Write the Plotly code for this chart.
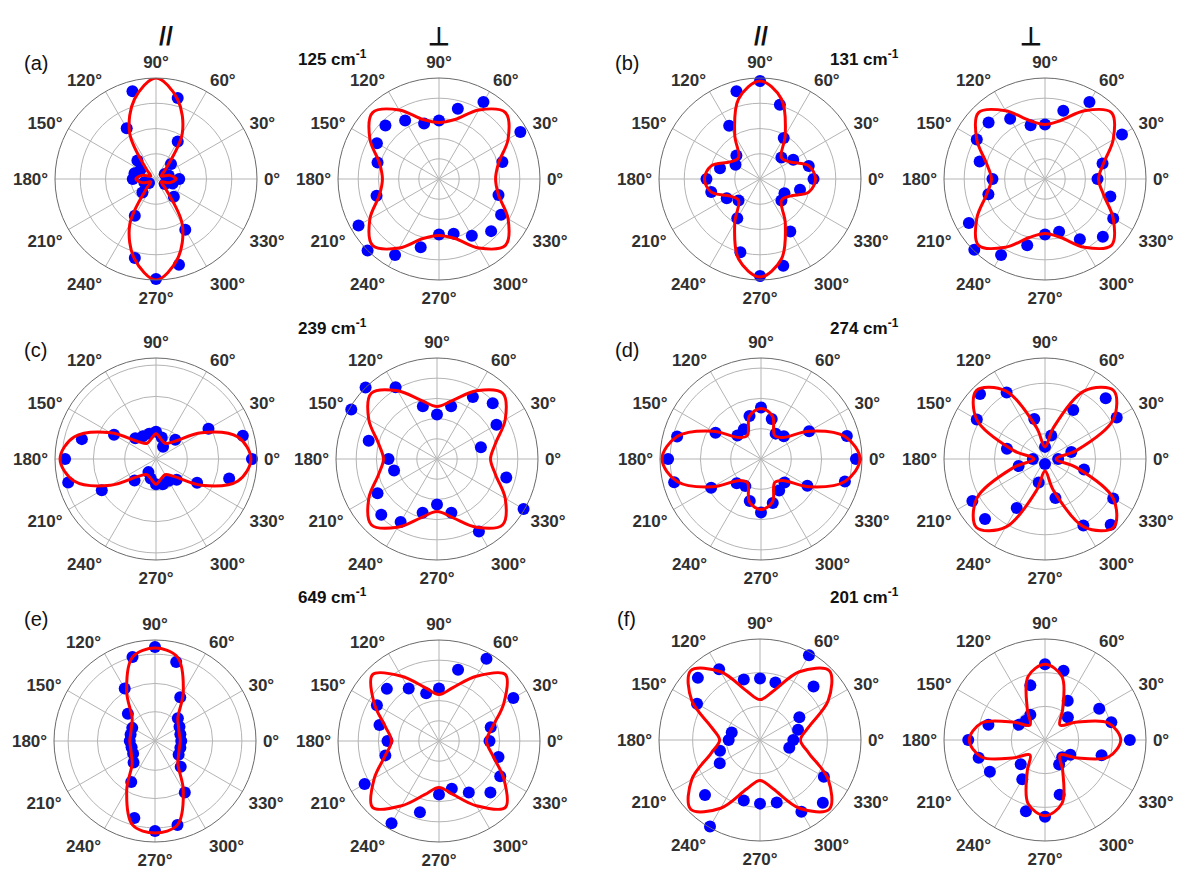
import plotly.graph_objects as go

W, H = 1177, 869

# Polarization angles (degrees) of the measured points and of the fitted curves
DOT_ANGLES = list(range(0, 360, 15))
FIT_ANGLES = list(range(0, 375, 15))

ANGLE_TICKS = list(range(0, 360, 30))
ANGLE_LABELS = [f"{a}°" for a in ANGLE_TICKS]

# Normalized Raman intensities, parallel (//) and perpendicular (⊥) configurations
# (a) 125 cm-1
a_par_dots = [0.23, 0.13, 0.10, 0.21, 0.43, 0.83, 1.02, 0.90, 0.58, 0.26, 0.18, 0.22,
              0.23, 0.12, 0.08, 0.19, 0.42, 0.81, 0.99, 0.88, 0.58, 0.25, 0.10, 0.17]
a_par_fit = [0.20, 0.14, 0.06, 0.13, 0.52, 0.82, 1.00, 0.82, 0.52, 0.13, 0.06, 0.14,
             0.20, 0.14, 0.06, 0.13, 0.52, 0.82, 1.00, 0.82, 0.52, 0.13, 0.06, 0.14]
a_perp_dots = [None, 0.65, 0.93, 1.02, 0.88, 0.72, 0.58, 0.57, 0.67, 0.75, 0.71, 0.63,
               None, 0.64, 0.92, 1.00, 0.87, 0.70, 0.55, 0.56, 0.65, 0.73, 0.71, 0.61]
a_perp_fit = [0.56, 0.61, 0.79, 0.93, 0.79, 0.61, 0.56, 0.61, 0.79, 0.93, 0.79, 0.61,
              0.56, 0.61, 0.79, 0.93, 0.79, 0.61, 0.56, 0.61, 0.79, 0.93, 0.79, 0.61]

# (b) 131 cm-1
b_par_dots = [0.53, 0.50, 0.38, 0.30, 0.47, 0.76, 0.97, 0.90, 0.61, 0.33, 0.28, 0.41,
              0.53, 0.50, 0.38, 0.30, 0.45, 0.75, 0.96, 0.89, 0.60, 0.30, 0.28, 0.41]
b_par_fit = [0.55, 0.50, 0.34, 0.30, 0.50, 0.82, 0.97, 0.82, 0.50, 0.30, 0.34, 0.50,
             0.55, 0.50, 0.34, 0.30, 0.50, 0.82, 0.97, 0.82, 0.50, 0.30, 0.34, 0.50]
b_perp_dots = [0.52, 0.59, 0.88, 1.01, 0.88, 0.70, 0.54, 0.55, 0.69, 0.79, 0.78, 0.67,
               0.52, 0.58, 0.87, 0.99, 0.87, 0.68, 0.55, 0.54, 0.69, 0.81, 0.78, 0.67]
b_perp_fit = [0.53, 0.60, 0.78, 0.93, 0.78, 0.60, 0.54, 0.60, 0.78, 0.93, 0.78, 0.60,
              0.53, 0.60, 0.78, 0.93, 0.78, 0.60, 0.54, 0.60, 0.78, 0.93, 0.78, 0.60]

# (c) 239 cm-1
c_par_dots = [0.95, 0.89, 0.60, 0.27, 0.14, 0.22, 0.27, 0.26, 0.26, 0.29, 0.48, 0.76,
              0.90, 0.90, 0.62, 0.30, 0.15, 0.20, 0.25, 0.26, 0.25, 0.29, 0.47, 0.75]
c_par_fit = [0.94, 0.84, 0.52, 0.24, 0.18, 0.20, 0.25, 0.20, 0.18, 0.24, 0.52, 0.84,
             0.95, 0.84, 0.52, 0.24, 0.18, 0.20, 0.25, 0.20, 0.18, 0.24, 0.52, 0.84]
c_perp_dots = [None, 0.45, 0.68, 0.78, 0.71, 0.54, 0.44, 0.54, 0.82, 1.00, 0.98, 0.70,
               0.48, 0.44, 0.68, 0.78, 0.72, 0.55, 0.45, 0.55, 0.83, 1.02, 0.99, 0.71]
c_perp_fit = [0.53, 0.60, 0.78, 0.92, 0.78, 0.60, 0.52, 0.60, 0.78, 0.92, 0.78, 0.60,
              0.53, 0.60, 0.78, 0.92, 0.78, 0.60, 0.52, 0.60, 0.78, 0.92, 0.78, 0.60]

# (d) 274 cm-1
d_par_dots = [0.94, 0.88, 0.55, 0.32, 0.29, 0.41, 0.51, 0.44, 0.34, 0.33, 0.52, 0.86,
              0.92, 0.89, 0.57, 0.34, 0.31, 0.43, 0.53, 0.45, 0.36, 0.33, 0.53, 0.86]
d_par_fit = [0.98, 0.86, 0.55, 0.30, 0.27, 0.44, 0.50, 0.44, 0.27, 0.30, 0.55, 0.86,
             0.98, 0.86, 0.55, 0.30, 0.27, 0.44, 0.50, 0.44, 0.27, 0.30, 0.55, 0.86]
d_perp_dots = [0.13, 0.27, 0.82, 0.85, 0.56, 0.24, 0.12, 0.41, 0.76, 0.91, 0.78, 0.39,
               0.12, 0.27, 0.83, 0.84, 0.56, 0.24, 0.05, 0.40, 0.76, 0.92, 0.78, 0.40]
d_perp_fit = [0.11, 0.32, 0.78, 0.96, 0.78, 0.32, 0.12, 0.32, 0.78, 0.96, 0.78, 0.32,
              0.11, 0.32, 0.78, 0.96, 0.78, 0.32, 0.12, 0.32, 0.78, 0.96, 0.78, 0.32]

# (e) 649 cm-1
e_par_dots = [0.26, 0.26, 0.28, 0.32, 0.50, 0.81, 0.93, 0.86, 0.60, 0.38, 0.26, 0.25,
              0.25, 0.24, 0.25, 0.30, 0.47, 0.79, 0.89, 0.86, 0.59, 0.36, 0.27, 0.26]
e_par_fit = [0.25, 0.25, 0.27, 0.32, 0.56, 0.86, 0.92, 0.86, 0.56, 0.32, 0.27, 0.25,
             0.25, 0.25, 0.27, 0.32, 0.56, 0.86, 0.91, 0.86, 0.56, 0.32, 0.27, 0.25]
e_perp_dots = [0.50, 0.53, 0.85, 1.01, 0.94, 0.73, 0.52, 0.49, 0.60, 0.73, 0.71, 0.61,
               0.51, 0.55, 0.85, 1.01, 0.94, 0.73, 0.53, 0.49, 0.59, 0.72, 0.70, 0.61]
e_perp_fit = [0.47, 0.55, 0.74, 0.93, 0.74, 0.55, 0.46, 0.55, 0.74, 0.93, 0.74, 0.55,
              0.47, 0.55, 0.74, 0.93, 0.74, 0.55, 0.46, 0.55, 0.74, 0.93, 0.74, 0.55]

# (f) 201 cm-1
f_par_dots = [0.33, 0.39, 0.45, 0.75, 0.97, 0.59, 0.61, 0.62, 0.81, 0.87, 0.72, 0.29,
              0.31, 0.41, 0.46, 0.77, 0.99, 0.62, 0.63, 0.64, 0.82, 0.88, 0.73, 0.30]
f_par_fit = [0.40, 0.50, 0.78, 0.97, 0.78, 0.50, 0.40, 0.50, 0.78, 0.97, 0.78, 0.50,
             0.40, 0.50, 0.78, 0.97, 0.78, 0.50, 0.40, 0.50, 0.78, 0.97, 0.78, 0.50]
f_perp_dots = [0.84, 0.68, 0.62, 0.32, 0.45, 0.71, 0.75, 0.56, 0.29, 0.27, 0.30, 0.58,
               0.76, 0.68, 0.63, 0.34, 0.45, 0.73, 0.76, 0.56, 0.28, 0.24, 0.29, 0.58]
f_perp_fit = [0.75, 0.65, 0.35, 0.21, 0.35, 0.65, 0.75, 0.65, 0.35, 0.21, 0.35, 0.65,
              0.75, 0.65, 0.35, 0.21, 0.35, 0.65, 0.75, 0.65, 0.35, 0.21, 0.35, 0.65]

# Radial grid circles of each panel (outer edge = 1)
RINGS_QUARTER = [0.25, 0.5, 0.75]
RINGS_FIFTH = [0.2, 0.4, 0.6, 0.8]
RINGS_THIRD = [0.333, 0.667]

# (dots, fit, rings, center x px, center y px)
PANELS = [
    (a_par_dots, a_par_fit, RINGS_QUARTER, 156, 179),
    (a_perp_dots, a_perp_fit, RINGS_FIFTH, 439, 179),
    (b_par_dots, b_par_fit, RINGS_QUARTER, 760, 179),
    (b_perp_dots, b_perp_fit, RINGS_FIFTH, 1045, 179),
    (c_par_dots, c_par_fit, [0.31, 0.62, 0.93], 156, 459),
    (c_perp_dots, c_perp_fit, RINGS_FIFTH, 437, 459),
    (d_par_dots, d_par_fit, [0.3, 0.6, 0.9], 761, 459),
    (d_perp_dots, d_perp_fit, RINGS_QUARTER, 1045, 459),
    (e_par_dots, e_par_fit, [0.29, 0.57, 0.86], 155, 741),
    (e_perp_dots, e_perp_fit, RINGS_FIFTH, 439, 741),
    (f_par_dots, f_par_fit, RINGS_THIRD, 760, 740),
    (f_perp_dots, f_perp_fit, RINGS_THIRD, 1045, 740),
]

R_PX = 101
TICK_FONT = dict(family="Liberation Sans", size=17, color="#303030", weight="bold")

fig = go.Figure()
layout = {}
for i, (dots, fit, rings, cx, cy) in enumerate(PANELS, start=1):
    name = "polar" if i == 1 else f"polar{i}"
    fig.add_trace(go.Scatterpolar(
        r=dots, theta=DOT_ANGLES, mode="markers", subplot=name,
        marker=dict(color="#0000ff", size=12), cliponaxis=False,
        showlegend=False, hoverinfo="skip"))
    fig.add_trace(go.Scatterpolar(
        r=fit + fit[:1], theta=FIT_ANGLES, mode="lines", subplot=name,
        line=dict(color="#ff0000", width=3, shape="spline", smoothing=1.0),
        cliponaxis=False, showlegend=False, hoverinfo="skip"))
    layout[name] = dict(
        domain=dict(x=[(cx - R_PX) / W, (cx + R_PX) / W],
                    y=[1 - (cy + R_PX) / H, 1 - (cy - R_PX) / H]),
        bgcolor="white",
        angularaxis=dict(
            rotation=0, direction="counterclockwise",
            tickmode="array", tickvals=ANGLE_TICKS, ticktext=ANGLE_LABELS,
            ticks="outside", ticklen=3, tickcolor="rgba(0,0,0,0)",
            showline=True, linecolor="#6a6a6a", linewidth=1,
            showgrid=True, gridcolor="#b4b4b4", gridwidth=1,
            tickfont=TICK_FONT),
        radialaxis=dict(
            range=[0, 1], tickmode="array", tickvals=rings,
            showticklabels=False, ticks="", showline=False,
            showgrid=True, gridcolor="#b4b4b4", gridwidth=1),
    )

fig.update_layout(**layout)

annotations = []
# Column headers
for x, txt in [(157, "//"), (439, "⊥"), (761, "//"), (1044, "⊥")]:
    annotations.append(dict(x=x / W, y=1 - 20 / H, xref="paper", yref="paper",
                            text=f"<b>{txt}</b>", showarrow=False,
                            font=dict(family="Liberation Sans", size=25, color="#111")))
# Panel letters
for x, y, txt in [(22, 50, "(a)"), (627, 50, "(b)"), (22, 350, "(c)"),
                  (627, 350, "(d)"), (22, 632, "(e)"), (627, 632, "(f)")]:
    annotations.append(dict(x=x / W, y=1 - y / H, xref="paper", yref="paper",
                            text=txt, showarrow=False,
                            font=dict(family="Liberation Sans", size=20, color="#111")))
# Raman shifts
for x, y, txt in [(296, 45, "125"), (901, 45, "131"), (296, 327, "239"),
                  (901, 327, "274"), (296, 609, "649"), (901, 609, "201")]:
    annotations.append(dict(x=x / W, y=1 - y / H, xref="paper", yref="paper",
                            text=f"<b>{txt} cm<sup>-1</sup></b>", showarrow=False,
                            font=dict(family="Liberation Sans", size=17, color="#111")))

fig.update_layout(width=W, height=H, margin=dict(l=0, r=0, t=0, b=0),
                  paper_bgcolor="white", plot_bgcolor="white",
                  annotations=annotations)

fig.write_html("out.html")
